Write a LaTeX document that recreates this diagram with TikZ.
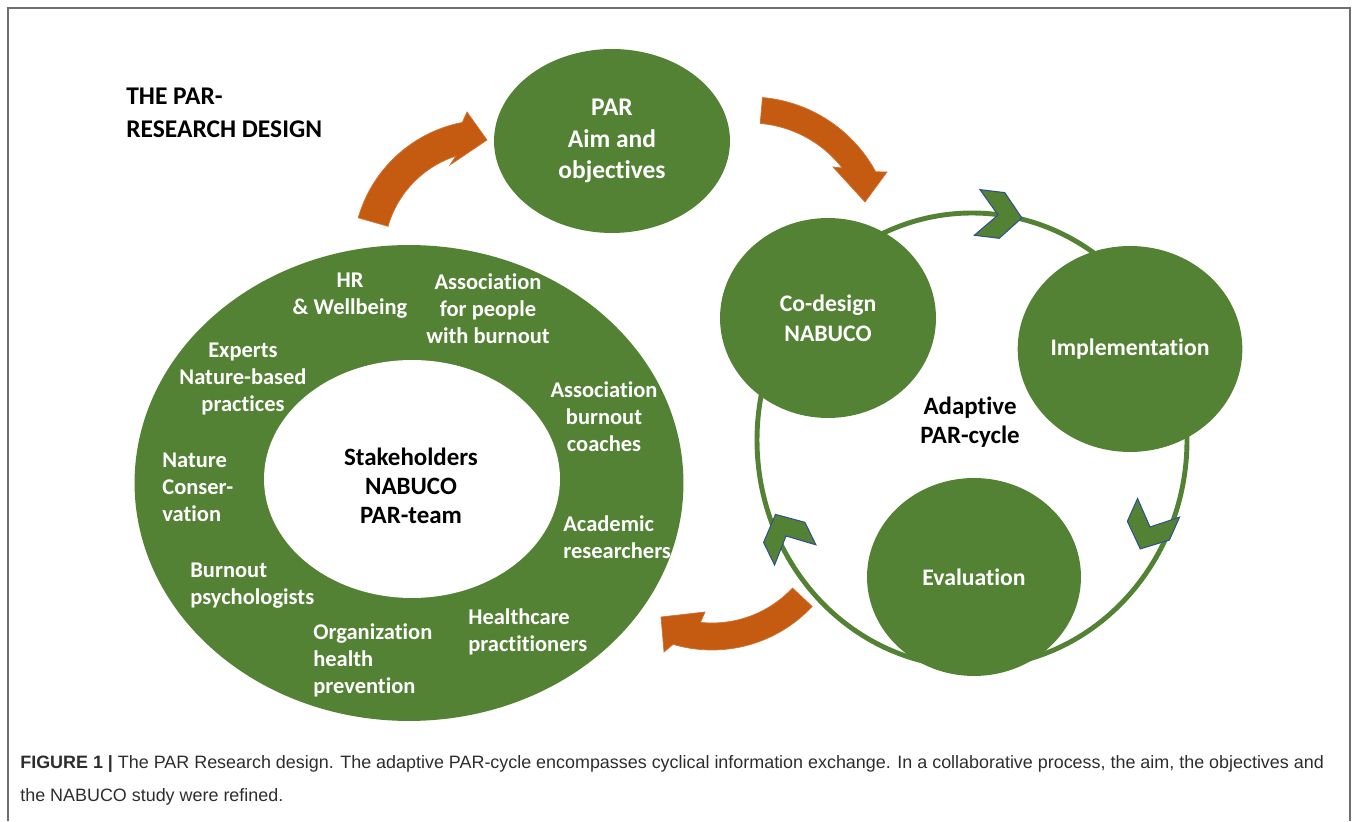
\documentclass[tikz,border=0pt]{standalone}
\usepackage{fontspec}
\setmainfont{Carlito}[Ligatures=NoCommon]
\newfontfamily\capfont{Liberation Sans}
\usetikzlibrary{shapes.geometric,calc}

\definecolor{pargreen}{RGB}{84,130,53}
\definecolor{parorange}{RGB}{197,90,17}
\definecolor{chevline}{RGB}{47,82,143}
\definecolor{framegray}{RGB}{110,110,110}
\definecolor{captext}{RGB}{45,45,45}

\tikzset{
  blob/.style={ellipse, fill=pargreen, inner sep=0pt, text=white, align=center,
    font=\bfseries\fontsize{13.5}{17}\selectfont},
  ringlabel/.style={text=white, align=center, inner sep=0pt,
    font=\bfseries\fontsize{12.8}{15.3}\selectfont},
  leftlabel/.style={ringlabel, align=left, anchor=west},
  darklabel/.style={text=black, align=center, inner sep=0pt,
    font=\bfseries\fontsize{14.2}{16.6}\selectfont},
  bendarrow/.style={fill=parorange, draw=parorange!85!white, line width=0.4pt},
  chevron/.pic={
    \filldraw[fill=pargreen, draw=chevline, line width=0.6pt]
      (-21,23) -- (4,23) -- (24,0) -- (4,-23) -- (-21,-23) -- (0,0) -- cycle;
  }
}

\begin{document}
\begin{tikzpicture}[x=0.02cm, y=0.02cm]
  \useasboundingbox (0,0) rectangle (1358,821);
  % frame
  \draw[framegray, line width=1.1pt] (8,0) -- (8,813) -- (1350,813) -- (1350,0);

  \node[darklabel, align=left, anchor=west, font=\bfseries\fontsize{14.5}{18.7}\selectfont]
    (title) at (126,708) {THE PAR-\\RESEARCH DESIGN};

  % stakeholder ring
  \node[ellipse, fill=pargreen, minimum width=10.98cm, minimum height=9.52cm] (ring) at (409,338) {};
  \node[ellipse, fill=white, minimum width=5.92cm, minimum height=4.76cm] (core) at (412,342) {};
  \node[darklabel] (stake) at (411,335) {Stakeholders\\NABUCO\\PAR-team};

  \node[ringlabel] (hr) at (350,525) {HR\\\& Wellbeing};
  \node[ringlabel] (people) at (488,512) {Association\\for people\\with burnout};
  \node[ringlabel] (experts) at (243,442) {Experts\\Nature-based\\practices};
  \node[ringlabel] (coaches) at (604,404) {Association\\burnout\\coaches};
  \node[leftlabel] (nature) at (162,334) {Nature\\Conser-\\vation};
  \node[leftlabel] (academic) at (563,284) {Academic\\researchers};
  \node[leftlabel] (psych) at (190,235) {Burnout\\psychologists};
  \node[leftlabel] (health) at (468,189) {Healthcare\\practitioners};
  \node[leftlabel] (orgprev) at (313,161) {Organization\\health\\prevention};

  % adaptive cycle
  \coordinate (cyc) at (972,381);
  \draw[pargreen, line width=2.8pt] (cyc) ellipse [x radius=215, y radius=227];

  \node[blob, minimum width=4.72cm, minimum height=3.68cm, font=\bfseries\fontsize{14.5}{18}\selectfont]
    (par) at (612,680) {PAR\\Aim and\\objectives};
  \node[blob, minimum width=4.32cm, minimum height=4.0cm] (codesign) at (828,503) {Co-design\\NABUCO};
  \node[blob, minimum width=4.32cm, minimum height=4.12cm] (impl) at (1130,472) {Implementation};
  \node[blob, minimum width=4.28cm, minimum height=3.96cm] (eval) at (974,244) {Evaluation};
  \node[darklabel] (adaptive) at (970,399) {Adaptive\\PAR-cycle};

  \pic[rotate=-7] at (998,606) {chevron};
  \pic[rotate=-114] at (1150,294) {chevron};
  \pic[rotate=116] at (786,285) {chevron};

  % orange arrows
  \filldraw[bendarrow] ($(488,566)+(164:135)$) arc[start angle=164, end angle=101, radius=135]
    -- (467,709) -- (487,681) -- (450,656)
    -- ($(488,566)+(108:104)$) arc[start angle=108, end angle=164, radius=104] -- cycle;
  \filldraw[bendarrow] ($(750,581)+(85:143)$) arc[start angle=85, end angle=28.5, radius=143]
    -- (887,649) -- (865,619) -- (833,654)
    -- ($(750,581)+(38:117)$) arc[start angle=38, end angle=85, radius=117] -- cycle;
  \filldraw[bendarrow] ($(712,308)+(-43:110)$) arc[start angle=-43, end angle=-96, radius=110]
    -- (705,209) -- (661,204) -- (664,169)
    -- ($(712,308)+(-106.5:137)$) arc[start angle=-106.5, end angle=-43, radius=137] -- cycle;

  % caption
  \node[anchor=north west, align=left, inner sep=0pt, text=captext,
    font=\capfont\fontsize{10.2}{18.7}\selectfont] (caption) at (20,66)
    {\textbf{FIGURE 1 |} The PAR Research design. The adaptive PAR-cycle encompasses cyclical information exchange. In a collaborative process, the aim, the objectives and\\
     the NABUCO study were refined.};
\end{tikzpicture}
\end{document}
